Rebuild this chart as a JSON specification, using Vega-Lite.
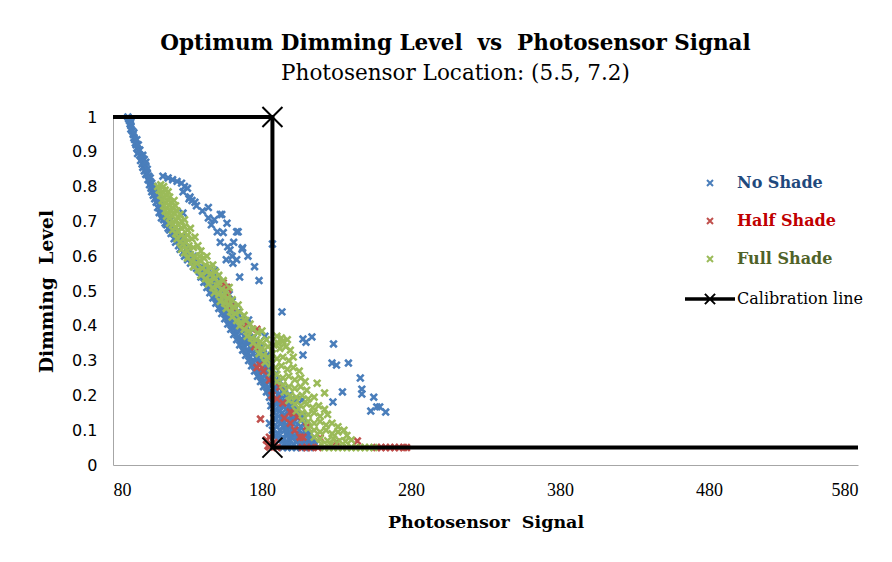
{
"$schema": "https://vega.github.io/schema/vega-lite/v6.json",
"autosize": {"type": "none"},
"padding": {"left": 113, "top": 117, "right": 34, "bottom": 97},
"width": 745,
"height": 348,
"background": "white",
"config": {"view": {"stroke": null}},
"title": {
"text": "Optimum Dimming Level\u00a0 vs\u00a0 Photosensor Signal",
"subtitle": "Photosensor Location: (5.5, 7.2)",
"font": "DejaVu Serif", "fontSize": 21.5, "fontWeight": "bold", "color": "#000000",
"subtitleFont": "DejaVu Serif", "subtitleFontSize": 21.5, "subtitleColor": "#000000", "subtitlePadding": 8,
"anchor": "middle", "frame": "group", "dx": -30, "offset": 19
},
"datasets": {
"scatter": [
{"s":"No Shade","x":90,"y":1.0},{"s":"No Shade","x":90.5,"y":0.995},{"s":"No Shade","x":91,"y":0.99},{"s":"No Shade","x":91.5,"y":0.98},{"s":"No Shade","x":92,"y":0.975},{"s":"No Shade","x":92,"y":0.965},{"s":"No Shade","x":93,"y":0.96},{"s":"No Shade","x":93.5,"y":0.95},{"s":"No Shade","x":94,"y":0.94},{"s":"No Shade","x":94.5,"y":0.935},{"s":"No Shade","x":95,"y":0.925},{"s":"No Shade","x":95.5,"y":0.92},{"s":"No Shade","x":96,"y":0.91},{"s":"No Shade","x":97,"y":0.905},{"s":"No Shade","x":96.5,"y":0.895},{"s":"No Shade","x":98,"y":0.89},{"s":"No Shade","x":99,"y":0.885},{"s":"No Shade","x":100,"y":0.88},{"s":"No Shade","x":101,"y":0.878},{"s":"No Shade","x":98.5,"y":0.875},{"s":"No Shade","x":99.5,"y":0.865},{"s":"No Shade","x":100,"y":0.855},{"s":"No Shade","x":102,"y":0.86},{"s":"No Shade","x":101,"y":0.845},{"s":"No Shade","x":102,"y":0.835},{"s":"No Shade","x":103,"y":0.84},{"s":"No Shade","x":104,"y":0.83},{"s":"No Shade","x":103.5,"y":0.82},{"s":"No Shade","x":105,"y":0.815},{"s":"No Shade","x":106,"y":0.81},{"s":"No Shade","x":104.5,"y":0.805},{"s":"No Shade","x":107,"y":0.8},{"s":"No Shade","x":105.5,"y":0.795},{"s":"No Shade","x":108,"y":0.79},{"s":"No Shade","x":106,"y":0.785},{"s":"No Shade","x":107,"y":0.775},{"s":"No Shade","x":109,"y":0.78},{"s":"No Shade","x":108,"y":0.765},{"s":"No Shade","x":110,"y":0.77},{"s":"No Shade","x":109,"y":0.755},{"s":"No Shade","x":111,"y":0.75},{"s":"No Shade","x":110,"y":0.74},{"s":"No Shade","x":112,"y":0.735},{"s":"No Shade","x":111,"y":0.725},{"s":"No Shade","x":113,"y":0.72},{"s":"No Shade","x":112.5,"y":0.71},{"s":"No Shade","x":114,"y":0.705},{"s":"No Shade","x":115,"y":0.695},{"s":"No Shade","x":116,"y":0.69},{"s":"No Shade","x":117,"y":0.68},{"s":"No Shade","x":118,"y":0.675},{"s":"No Shade","x":119,"y":0.665},
{"s":"No Shade","x":113.5,"y":0.83},{"s":"No Shade","x":117,"y":0.825},{"s":"No Shade","x":120,"y":0.82},{"s":"No Shade","x":123,"y":0.815},{"s":"No Shade","x":126,"y":0.81},{"s":"No Shade","x":128,"y":0.8},{"s":"No Shade","x":130,"y":0.795},{"s":"No Shade","x":127,"y":0.785},{"s":"No Shade","x":133,"y":0.76},{"s":"No Shade","x":131,"y":0.765},{"s":"No Shade","x":135,"y":0.755},{"s":"No Shade","x":144,"y":0.74},{"s":"No Shade","x":152,"y":0.72},{"s":"No Shade","x":144,"y":0.71},{"s":"No Shade","x":156.5,"y":0.695},{"s":"No Shade","x":164,"y":0.67},{"s":"No Shade","x":150,"y":0.67},{"s":"No Shade","x":154,"y":0.668},{"s":"No Shade","x":157,"y":0.627},{"s":"No Shade","x":158.5,"y":0.618},{"s":"No Shade","x":167,"y":0.624},{"s":"No Shade","x":170.6,"y":0.6},{"s":"No Shade","x":160,"y":0.6},{"s":"No Shade","x":156,"y":0.59},{"s":"No Shade","x":175,"y":0.57},{"s":"No Shade","x":187,"y":0.635},{"s":"No Shade","x":127,"y":0.724},{"s":"No Shade","x":140,"y":0.73},{"s":"No Shade","x":148,"y":0.705},{"s":"No Shade","x":136,"y":0.745},{"s":"No Shade","x":161,"y":0.64},{"s":"No Shade","x":146,"y":0.69},{"s":"No Shade","x":152,"y":0.64},{"s":"No Shade","x":131.7,"y":0.77},{"s":"No Shade","x":153,"y":0.72},{"s":"No Shade","x":163,"y":0.67},{"s":"No Shade","x":166.6,"y":0.62},{"s":"No Shade","x":160.5,"y":0.58},{"s":"No Shade","x":163,"y":0.59},{"s":"No Shade","x":165,"y":0.54},{"s":"No Shade","x":178,"y":0.53},
{"s":"No Shade","x":121,"y":0.65},{"s":"No Shade","x":122,"y":0.64},{"s":"No Shade","x":124,"y":0.63},{"s":"No Shade","x":125,"y":0.62},{"s":"No Shade","x":127,"y":0.61},{"s":"No Shade","x":128,"y":0.6},{"s":"No Shade","x":130,"y":0.59},{"s":"No Shade","x":132,"y":0.58},{"s":"No Shade","x":134,"y":0.57},{"s":"No Shade","x":136,"y":0.565},{"s":"No Shade","x":138,"y":0.555},{"s":"No Shade","x":140,"y":0.55},{"s":"No Shade","x":139,"y":0.54},{"s":"No Shade","x":142,"y":0.535},{"s":"No Shade","x":141,"y":0.525},{"s":"No Shade","x":144,"y":0.52},{"s":"No Shade","x":143,"y":0.51},{"s":"No Shade","x":146,"y":0.505},{"s":"No Shade","x":145,"y":0.495},{"s":"No Shade","x":148,"y":0.49},{"s":"No Shade","x":147,"y":0.48},{"s":"No Shade","x":150,"y":0.475},{"s":"No Shade","x":149,"y":0.465},{"s":"No Shade","x":152,"y":0.46},{"s":"No Shade","x":151,"y":0.45},{"s":"No Shade","x":154,"y":0.445},{"s":"No Shade","x":153,"y":0.435},{"s":"No Shade","x":156,"y":0.43},{"s":"No Shade","x":155,"y":0.42},{"s":"No Shade","x":158,"y":0.415},{"s":"No Shade","x":157,"y":0.405},{"s":"No Shade","x":160,"y":0.4},{"s":"No Shade","x":159,"y":0.39},{"s":"No Shade","x":162,"y":0.385},{"s":"No Shade","x":161,"y":0.375},{"s":"No Shade","x":164,"y":0.37},{"s":"No Shade","x":163,"y":0.36},{"s":"No Shade","x":166,"y":0.355},{"s":"No Shade","x":165,"y":0.345},{"s":"No Shade","x":168,"y":0.34},{"s":"No Shade","x":167,"y":0.33},{"s":"No Shade","x":170,"y":0.325},{"s":"No Shade","x":169,"y":0.315},{"s":"No Shade","x":172,"y":0.31},{"s":"No Shade","x":171,"y":0.3},{"s":"No Shade","x":174,"y":0.295},{"s":"No Shade","x":173,"y":0.285},{"s":"No Shade","x":176,"y":0.28},{"s":"No Shade","x":175,"y":0.27},{"s":"No Shade","x":178,"y":0.265},{"s":"No Shade","x":177,"y":0.255},{"s":"No Shade","x":180,"y":0.25},{"s":"No Shade","x":179,"y":0.24},{"s":"No Shade","x":182,"y":0.235},{"s":"No Shade","x":181,"y":0.225},{"s":"No Shade","x":184,"y":0.22},{"s":"No Shade","x":183,"y":0.21},{"s":"No Shade","x":186,"y":0.205},{"s":"No Shade","x":185,"y":0.195},{"s":"No Shade","x":188,"y":0.19},{"s":"No Shade","x":187,"y":0.18},{"s":"No Shade","x":190,"y":0.175},{"s":"No Shade","x":186,"y":0.17},{"s":"No Shade","x":189,"y":0.16},{"s":"No Shade","x":192,"y":0.155},{"s":"No Shade","x":188,"y":0.15},{"s":"No Shade","x":191,"y":0.14},{"s":"No Shade","x":194,"y":0.135},{"s":"No Shade","x":189,"y":0.13},{"s":"No Shade","x":193,"y":0.12},{"s":"No Shade","x":196,"y":0.115},{"s":"No Shade","x":190,"y":0.11},{"s":"No Shade","x":195,"y":0.1},{"s":"No Shade","x":198,"y":0.095},{"s":"No Shade","x":191,"y":0.09},{"s":"No Shade","x":197,"y":0.085},{"s":"No Shade","x":200,"y":0.08},{"s":"No Shade","x":193,"y":0.075},{"s":"No Shade","x":199,"y":0.07},{"s":"No Shade","x":203,"y":0.065},{"s":"No Shade","x":195,"y":0.06},{"s":"No Shade","x":201,"y":0.058},{"s":"No Shade","x":206,"y":0.055},{"s":"No Shade","x":209,"y":0.052},{"s":"No Shade","x":212,"y":0.05},
{"s":"No Shade","x":154,"y":0.5},{"s":"No Shade","x":152,"y":0.52},{"s":"No Shade","x":156,"y":0.48},{"s":"No Shade","x":158,"y":0.46},{"s":"No Shade","x":160,"y":0.44},{"s":"No Shade","x":162,"y":0.43},{"s":"No Shade","x":165,"y":0.41},{"s":"No Shade","x":167,"y":0.39},{"s":"No Shade","x":170,"y":0.375},{"s":"No Shade","x":172,"y":0.36},{"s":"No Shade","x":174,"y":0.345},{"s":"No Shade","x":176,"y":0.33},{"s":"No Shade","x":178,"y":0.32},{"s":"No Shade","x":180,"y":0.305},{"s":"No Shade","x":182,"y":0.29},{"s":"No Shade","x":184,"y":0.28},{"s":"No Shade","x":186,"y":0.265},{"s":"No Shade","x":188,"y":0.25},{"s":"No Shade","x":190,"y":0.24},{"s":"No Shade","x":192,"y":0.225},{"s":"No Shade","x":194,"y":0.21},{"s":"No Shade","x":196,"y":0.2},{"s":"No Shade","x":198,"y":0.185},{"s":"No Shade","x":200,"y":0.17},{"s":"No Shade","x":202,"y":0.16},{"s":"No Shade","x":204,"y":0.145},{"s":"No Shade","x":206,"y":0.13},{"s":"No Shade","x":208,"y":0.12},{"s":"No Shade","x":210,"y":0.105},{"s":"No Shade","x":212,"y":0.09},{"s":"No Shade","x":214,"y":0.075},{"s":"No Shade","x":211,"y":0.065},{"s":"No Shade","x":216,"y":0.06},{"s":"No Shade","x":205,"y":0.1},{"s":"No Shade","x":203,"y":0.11},{"s":"No Shade","x":200,"y":0.13},{"s":"No Shade","x":198,"y":0.15},{"s":"No Shade","x":194,"y":0.17},{"s":"No Shade","x":192,"y":0.19},{"s":"No Shade","x":189,"y":0.21},{"s":"No Shade","x":186,"y":0.23},{"s":"No Shade","x":183,"y":0.25},{"s":"No Shade","x":181,"y":0.27},{"s":"No Shade","x":178,"y":0.29},{"s":"No Shade","x":176,"y":0.31},{"s":"No Shade","x":173,"y":0.33},{"s":"No Shade","x":171,"y":0.35},{"s":"No Shade","x":168,"y":0.37},{"s":"No Shade","x":166,"y":0.39},{"s":"No Shade","x":163,"y":0.41},{"s":"No Shade","x":161,"y":0.43},{"s":"No Shade","x":158,"y":0.45},{"s":"No Shade","x":156,"y":0.47},{"s":"No Shade","x":150,"y":0.5},{"s":"No Shade","x":147,"y":0.53},{"s":"No Shade","x":144,"y":0.555},{"s":"No Shade","x":134,"y":0.6},{"s":"No Shade","x":131,"y":0.62},{"s":"No Shade","x":128,"y":0.64},{"s":"No Shade","x":126,"y":0.655},{"s":"No Shade","x":123,"y":0.67},{"s":"No Shade","x":121,"y":0.68},{"s":"No Shade","x":118,"y":0.7},{"s":"No Shade","x":116,"y":0.715},{"s":"No Shade","x":114,"y":0.73},{"s":"No Shade","x":113,"y":0.745},{"s":"No Shade","x":112,"y":0.76},{"s":"No Shade","x":111,"y":0.775},{"s":"No Shade","x":110,"y":0.79},
{"s":"No Shade","x":197,"y":0.05},{"s":"No Shade","x":200,"y":0.05},{"s":"No Shade","x":203,"y":0.05},{"s":"No Shade","x":206,"y":0.05},{"s":"No Shade","x":194,"y":0.05},{"s":"No Shade","x":207,"y":0.075},{"s":"No Shade","x":209,"y":0.085},{"s":"No Shade","x":204,"y":0.09},{"s":"No Shade","x":201,"y":0.1},{"s":"No Shade","x":207,"y":0.065},{"s":"No Shade","x":213,"y":0.065},{"s":"No Shade","x":196,"y":0.065},{"s":"No Shade","x":192,"y":0.1},{"s":"No Shade","x":194,"y":0.08},{"s":"No Shade","x":199,"y":0.11},{"s":"No Shade","x":202,"y":0.125},{"s":"No Shade","x":197,"y":0.13},{"s":"No Shade","x":195,"y":0.145},{"s":"No Shade","x":200,"y":0.14},{"s":"No Shade","x":196,"y":0.16},{"s":"No Shade","x":193,"y":0.18},{"s":"No Shade","x":197,"y":0.175},{"s":"No Shade","x":191,"y":0.2},{"s":"No Shade","x":188,"y":0.22},{"s":"No Shade","x":185,"y":0.24},{"s":"No Shade","x":190,"y":0.23},{"s":"No Shade","x":187,"y":0.26},{"s":"No Shade","x":183,"y":0.27},{"s":"No Shade","x":181,"y":0.29},{"s":"No Shade","x":185,"y":0.3},{"s":"No Shade","x":179,"y":0.31},{"s":"No Shade","x":183,"y":0.315},{"s":"No Shade","x":177,"y":0.32},{"s":"No Shade","x":175,"y":0.34},{"s":"No Shade","x":179,"y":0.34},{"s":"No Shade","x":173,"y":0.36},{"s":"No Shade","x":170,"y":0.38},{"s":"No Shade","x":168,"y":0.395},{"s":"No Shade","x":166,"y":0.41},{"s":"No Shade","x":163,"y":0.425},{"s":"No Shade","x":161,"y":0.44},{"s":"No Shade","x":159,"y":0.46},{"s":"No Shade","x":156,"y":0.46},{"s":"No Shade","x":154,"y":0.48},{"s":"No Shade","x":203,"y":0.187},{"s":"No Shade","x":207,"y":0.187},
{"s":"No Shade","x":185,"y":0.12},{"s":"No Shade","x":187,"y":0.1},{"s":"No Shade","x":189,"y":0.085},{"s":"No Shade","x":191,"y":0.07},{"s":"No Shade","x":198,"y":0.06},{"s":"No Shade","x":204,"y":0.075},{"s":"No Shade","x":210,"y":0.07},{"s":"No Shade","x":212,"y":0.08},{"s":"No Shade","x":206,"y":0.11},{"s":"No Shade","x":203,"y":0.14},{"s":"No Shade","x":199,"y":0.16},{"s":"No Shade","x":195,"y":0.18},{"s":"No Shade","x":192,"y":0.205},{"s":"No Shade","x":189,"y":0.225},{"s":"No Shade","x":186,"y":0.245},{"s":"No Shade","x":184,"y":0.26},{"s":"No Shade","x":181,"y":0.28},{"s":"No Shade","x":179,"y":0.3},{"s":"No Shade","x":177,"y":0.305},{"s":"No Shade","x":174,"y":0.32},{"s":"No Shade","x":172,"y":0.34},{"s":"No Shade","x":170,"y":0.355},{"s":"No Shade","x":167,"y":0.36},{"s":"No Shade","x":164,"y":0.39},{"s":"No Shade","x":162,"y":0.4},{"s":"No Shade","x":159,"y":0.42},{"s":"No Shade","x":157,"y":0.44},{"s":"No Shade","x":155,"y":0.455},{"s":"No Shade","x":153,"y":0.47},{"s":"No Shade","x":151,"y":0.48},{"s":"No Shade","x":149,"y":0.5},{"s":"No Shade","x":147,"y":0.52},{"s":"No Shade","x":145,"y":0.54},{"s":"No Shade","x":143,"y":0.545},{"s":"No Shade","x":141,"y":0.56},{"s":"No Shade","x":139,"y":0.57},{"s":"No Shade","x":137,"y":0.58},{"s":"No Shade","x":135,"y":0.585},{"s":"No Shade","x":133,"y":0.595},{"s":"No Shade","x":131,"y":0.605},{"s":"No Shade","x":129,"y":0.62},{"s":"No Shade","x":127,"y":0.63},{"s":"No Shade","x":125,"y":0.645},{"s":"No Shade","x":123,"y":0.655},{"s":"No Shade","x":121,"y":0.665},{"s":"No Shade","x":119,"y":0.68},{"s":"No Shade","x":117,"y":0.695},{"s":"No Shade","x":115,"y":0.71},{"s":"No Shade","x":113,"y":0.73},{"s":"No Shade","x":112,"y":0.75},{"s":"No Shade","x":110,"y":0.76},{"s":"No Shade","x":108,"y":0.78},{"s":"No Shade","x":107,"y":0.79},{"s":"No Shade","x":106,"y":0.8},{"s":"No Shade","x":105,"y":0.825},{"s":"No Shade","x":103,"y":0.85},{"s":"No Shade","x":102,"y":0.87},{"s":"No Shade","x":100,"y":0.89},{"s":"No Shade","x":98,"y":0.905},{"s":"No Shade","x":97,"y":0.92},{"s":"No Shade","x":96,"y":0.935},{"s":"No Shade","x":94,"y":0.955},{"s":"No Shade","x":92,"y":0.985},
{"s":"No Shade","x":188,"y":0.135},{"s":"No Shade","x":191,"y":0.125},{"s":"No Shade","x":194,"y":0.11},{"s":"No Shade","x":197,"y":0.1},{"s":"No Shade","x":200,"y":0.09},{"s":"No Shade","x":203,"y":0.08},{"s":"No Shade","x":206,"y":0.085},{"s":"No Shade","x":209,"y":0.095},{"s":"No Shade","x":207,"y":0.14},{"s":"No Shade","x":204,"y":0.16},{"s":"No Shade","x":201,"y":0.18},{"s":"No Shade","x":198,"y":0.2},{"s":"No Shade","x":195,"y":0.22},{"s":"No Shade","x":192,"y":0.24},{"s":"No Shade","x":189,"y":0.26},{"s":"No Shade","x":186,"y":0.28},{"s":"No Shade","x":183,"y":0.3},{"s":"No Shade","x":181,"y":0.32},{"s":"No Shade","x":178,"y":0.335},{"s":"No Shade","x":176,"y":0.35},{"s":"No Shade","x":174,"y":0.365},{"s":"No Shade","x":172,"y":0.38},{"s":"No Shade","x":169,"y":0.4},{"s":"No Shade","x":167,"y":0.42},{"s":"No Shade","x":164,"y":0.44},{"s":"No Shade","x":162,"y":0.45},{"s":"No Shade","x":160,"y":0.47},{"s":"No Shade","x":158,"y":0.49},{"s":"No Shade","x":156,"y":0.51},{"s":"No Shade","x":153,"y":0.525},{"s":"No Shade","x":150,"y":0.54},{"s":"No Shade","x":148,"y":0.56},
{"s":"No Shade","x":193.4,"y":0.44},{"s":"No Shade","x":207.5,"y":0.362},{"s":"No Shade","x":213.5,"y":0.368},{"s":"No Shade","x":228,"y":0.348},{"s":"No Shade","x":209.5,"y":0.353},{"s":"No Shade","x":227,"y":0.293},{"s":"No Shade","x":230,"y":0.287},{"s":"No Shade","x":238,"y":0.293},{"s":"No Shade","x":246,"y":0.25},{"s":"No Shade","x":247,"y":0.218},{"s":"No Shade","x":247,"y":0.204},{"s":"No Shade","x":234,"y":0.21},{"s":"No Shade","x":227.6,"y":0.181},{"s":"No Shade","x":255,"y":0.195},{"s":"No Shade","x":253,"y":0.155},{"s":"No Shade","x":257,"y":0.167},{"s":"No Shade","x":259,"y":0.167},{"s":"No Shade","x":263,"y":0.152},{"s":"No Shade","x":207.5,"y":0.316},{"s":"No Shade","x":171,"y":0.417},{"s":"No Shade","x":182,"y":0.37},
{"s":"Half Shade","x":156.5,"y":0.51},{"s":"Half Shade","x":154,"y":0.523},{"s":"Half Shade","x":155,"y":0.51},{"s":"Half Shade","x":158.5,"y":0.468},{"s":"Half Shade","x":157,"y":0.49},{"s":"Half Shade","x":176.6,"y":0.39},{"s":"Half Shade","x":175,"y":0.34},{"s":"Half Shade","x":178.7,"y":0.287},{"s":"Half Shade","x":176.6,"y":0.28},{"s":"Half Shade","x":185,"y":0.244},{"s":"Half Shade","x":186.7,"y":0.2},{"s":"Half Shade","x":192,"y":0.224},{"s":"Half Shade","x":194,"y":0.178},{"s":"Half Shade","x":199,"y":0.152},{"s":"Half Shade","x":204,"y":0.138},{"s":"Half Shade","x":195,"y":0.135},{"s":"Half Shade","x":210,"y":0.11},{"s":"Half Shade","x":205.5,"y":0.08},{"s":"Half Shade","x":179,"y":0.132},{"s":"Half Shade","x":183,"y":0.072},{"s":"Half Shade","x":185,"y":0.052},{"s":"Half Shade","x":244,"y":0.069},{"s":"Half Shade","x":219,"y":0.078},{"s":"Half Shade","x":230,"y":0.066},{"s":"Half Shade","x":201,"y":0.149},{"s":"Half Shade","x":199,"y":0.12},{"s":"Half Shade","x":207.5,"y":0.08},{"s":"Half Shade","x":185,"y":0.08},{"s":"Half Shade","x":188,"y":0.065},{"s":"Half Shade","x":186,"y":0.06},{"s":"Half Shade","x":184,"y":0.055},{"s":"Half Shade","x":207,"y":0.05},{"s":"Half Shade","x":210,"y":0.05},{"s":"Half Shade","x":213,"y":0.05},{"s":"Half Shade","x":217.6,"y":0.05},{"s":"Half Shade","x":257,"y":0.05},{"s":"Half Shade","x":260,"y":0.05},{"s":"Half Shade","x":263,"y":0.05},{"s":"Half Shade","x":266,"y":0.05},{"s":"Half Shade","x":269,"y":0.05},{"s":"Half Shade","x":272,"y":0.05},{"s":"Half Shade","x":275,"y":0.05},{"s":"Half Shade","x":277,"y":0.05},{"s":"Half Shade","x":190,"y":0.05},{"s":"Half Shade","x":157,"y":0.465},{"s":"Half Shade","x":160,"y":0.455},{"s":"Half Shade","x":168,"y":0.4},{"s":"Half Shade","x":181,"y":0.27},{"s":"Half Shade","x":190,"y":0.19},{"s":"Half Shade","x":202,"y":0.1},
{"s":"Full Shade","x":110,"y":0.8},{"s":"Full Shade","x":112,"y":0.805},{"s":"Full Shade","x":114,"y":0.8},{"s":"Full Shade","x":111,"y":0.79},{"s":"Full Shade","x":113,"y":0.785},{"s":"Full Shade","x":115,"y":0.79},{"s":"Full Shade","x":117,"y":0.785},{"s":"Full Shade","x":112,"y":0.775},{"s":"Full Shade","x":114,"y":0.77},{"s":"Full Shade","x":116,"y":0.775},{"s":"Full Shade","x":118,"y":0.77},{"s":"Full Shade","x":113,"y":0.76},{"s":"Full Shade","x":115,"y":0.755},{"s":"Full Shade","x":117,"y":0.76},{"s":"Full Shade","x":119,"y":0.755},{"s":"Full Shade","x":121,"y":0.76},{"s":"Full Shade","x":114,"y":0.745},{"s":"Full Shade","x":116,"y":0.74},{"s":"Full Shade","x":118,"y":0.745},{"s":"Full Shade","x":120,"y":0.74},{"s":"Full Shade","x":122,"y":0.745},{"s":"Full Shade","x":115,"y":0.73},{"s":"Full Shade","x":117,"y":0.725},{"s":"Full Shade","x":119,"y":0.73},{"s":"Full Shade","x":121,"y":0.725},{"s":"Full Shade","x":123,"y":0.73},{"s":"Full Shade","x":125,"y":0.72},{"s":"Full Shade","x":116,"y":0.715},{"s":"Full Shade","x":118,"y":0.71},{"s":"Full Shade","x":120,"y":0.715},{"s":"Full Shade","x":122,"y":0.705},{"s":"Full Shade","x":124,"y":0.71},{"s":"Full Shade","x":126,"y":0.7},{"s":"Full Shade","x":128,"y":0.705},{"s":"Full Shade","x":118,"y":0.695},{"s":"Full Shade","x":120,"y":0.69},{"s":"Full Shade","x":122,"y":0.685},{"s":"Full Shade","x":124,"y":0.69},{"s":"Full Shade","x":126,"y":0.68},{"s":"Full Shade","x":128,"y":0.685},{"s":"Full Shade","x":130,"y":0.675},{"s":"Full Shade","x":132,"y":0.68},{"s":"Full Shade","x":120,"y":0.675},{"s":"Full Shade","x":122,"y":0.665},{"s":"Full Shade","x":124,"y":0.67},{"s":"Full Shade","x":126,"y":0.66},{"s":"Full Shade","x":128,"y":0.655},{"s":"Full Shade","x":130,"y":0.66},{"s":"Full Shade","x":133,"y":0.65},{"s":"Full Shade","x":135,"y":0.655},{"s":"Full Shade","x":123,"y":0.65},{"s":"Full Shade","x":125,"y":0.64},{"s":"Full Shade","x":127,"y":0.635},{"s":"Full Shade","x":129,"y":0.64},{"s":"Full Shade","x":131,"y":0.63},{"s":"Full Shade","x":134,"y":0.625},{"s":"Full Shade","x":137,"y":0.63},{"s":"Full Shade","x":139,"y":0.615},{"s":"Full Shade","x":126,"y":0.62},{"s":"Full Shade","x":128,"y":0.61},{"s":"Full Shade","x":130,"y":0.615},{"s":"Full Shade","x":132,"y":0.605},{"s":"Full Shade","x":135,"y":0.6},{"s":"Full Shade","x":138,"y":0.6},{"s":"Full Shade","x":141,"y":0.595},{"s":"Full Shade","x":143,"y":0.6},{"s":"Full Shade","x":130,"y":0.595},{"s":"Full Shade","x":133,"y":0.585},{"s":"Full Shade","x":136,"y":0.58},{"s":"Full Shade","x":139,"y":0.585},{"s":"Full Shade","x":142,"y":0.575},{"s":"Full Shade","x":145,"y":0.57},{"s":"Full Shade","x":147,"y":0.575},{"s":"Full Shade","x":134,"y":0.57},{"s":"Full Shade","x":137,"y":0.56},{"s":"Full Shade","x":140,"y":0.565},{"s":"Full Shade","x":143,"y":0.555},{"s":"Full Shade","x":146,"y":0.55},{"s":"Full Shade","x":149,"y":0.555},{"s":"Full Shade","x":151,"y":0.545},{"s":"Full Shade","x":139,"y":0.545},{"s":"Full Shade","x":142,"y":0.535},{"s":"Full Shade","x":145,"y":0.53},{"s":"Full Shade","x":148,"y":0.535},{"s":"Full Shade","x":151,"y":0.525},{"s":"Full Shade","x":154,"y":0.53},{"s":"Full Shade","x":144,"y":0.52},{"s":"Full Shade","x":147,"y":0.51},{"s":"Full Shade","x":150,"y":0.515},{"s":"Full Shade","x":153,"y":0.505},{"s":"Full Shade","x":156,"y":0.5},{"s":"Full Shade","x":158,"y":0.51},{"s":"Full Shade","x":148,"y":0.495},{"s":"Full Shade","x":151,"y":0.49},{"s":"Full Shade","x":154,"y":0.485},{"s":"Full Shade","x":157,"y":0.48},{"s":"Full Shade","x":160,"y":0.475},{"s":"Full Shade","x":152,"y":0.47},{"s":"Full Shade","x":155,"y":0.465},{"s":"Full Shade","x":158,"y":0.46},{"s":"Full Shade","x":161,"y":0.455},{"s":"Full Shade","x":164,"y":0.46},{"s":"Full Shade","x":156,"y":0.45},{"s":"Full Shade","x":159,"y":0.44},{"s":"Full Shade","x":162,"y":0.435},{"s":"Full Shade","x":165,"y":0.44},{"s":"Full Shade","x":168,"y":0.43},{"s":"Full Shade","x":160,"y":0.425},{"s":"Full Shade","x":163,"y":0.415},{"s":"Full Shade","x":166,"y":0.41},{"s":"Full Shade","x":169,"y":0.415},{"s":"Full Shade","x":172,"y":0.405},{"s":"Full Shade","x":165,"y":0.4},{"s":"Full Shade","x":168,"y":0.39},{"s":"Full Shade","x":171,"y":0.385},{"s":"Full Shade","x":174,"y":0.39},{"s":"Full Shade","x":177,"y":0.38},{"s":"Full Shade","x":180,"y":0.385},{"s":"Full Shade","x":170,"y":0.37},{"s":"Full Shade","x":173,"y":0.365},{"s":"Full Shade","x":176,"y":0.36},{"s":"Full Shade","x":179,"y":0.355},{"s":"Full Shade","x":183,"y":0.36},{"s":"Full Shade","x":174,"y":0.35},{"s":"Full Shade","x":177,"y":0.34},{"s":"Full Shade","x":180,"y":0.335},{"s":"Full Shade","x":184,"y":0.34},{"s":"Full Shade","x":188,"y":0.345},{"s":"Full Shade","x":191,"y":0.35},{"s":"Full Shade","x":194,"y":0.355},{"s":"Full Shade","x":197,"y":0.36},{"s":"Full Shade","x":190,"y":0.37},{"s":"Full Shade","x":193,"y":0.365},{"s":"Full Shade","x":192,"y":0.335},{"s":"Full Shade","x":196,"y":0.34},{"s":"Full Shade","x":199,"y":0.33},{"s":"Full Shade","x":178,"y":0.32},{"s":"Full Shade","x":181,"y":0.315},{"s":"Full Shade","x":184,"y":0.31},{"s":"Full Shade","x":187,"y":0.32},{"s":"Full Shade","x":190,"y":0.305},{"s":"Full Shade","x":194,"y":0.31},{"s":"Full Shade","x":198,"y":0.3},{"s":"Full Shade","x":201,"y":0.31},{"s":"Full Shade","x":182,"y":0.295},{"s":"Full Shade","x":186,"y":0.29},{"s":"Full Shade","x":189,"y":0.28},{"s":"Full Shade","x":193,"y":0.285},{"s":"Full Shade","x":197,"y":0.275},{"s":"Full Shade","x":201,"y":0.28},{"s":"Full Shade","x":205,"y":0.27},{"s":"Full Shade","x":186,"y":0.265},{"s":"Full Shade","x":190,"y":0.26},{"s":"Full Shade","x":194,"y":0.25},{"s":"Full Shade","x":198,"y":0.255},{"s":"Full Shade","x":202,"y":0.245},{"s":"Full Shade","x":206,"y":0.25},{"s":"Full Shade","x":209,"y":0.24},{"s":"Full Shade","x":190,"y":0.24},{"s":"Full Shade","x":194,"y":0.23},{"s":"Full Shade","x":198,"y":0.225},{"s":"Full Shade","x":202,"y":0.22},{"s":"Full Shade","x":206,"y":0.225},{"s":"Full Shade","x":210,"y":0.215},{"s":"Full Shade","x":217,"y":0.235},{"s":"Full Shade","x":222,"y":0.207},{"s":"Full Shade","x":195,"y":0.21},{"s":"Full Shade","x":199,"y":0.2},{"s":"Full Shade","x":203,"y":0.195},{"s":"Full Shade","x":207,"y":0.2},{"s":"Full Shade","x":211,"y":0.19},{"s":"Full Shade","x":215,"y":0.195},{"s":"Full Shade","x":198,"y":0.185},{"s":"Full Shade","x":202,"y":0.175},{"s":"Full Shade","x":206,"y":0.17},{"s":"Full Shade","x":210,"y":0.175},{"s":"Full Shade","x":214,"y":0.165},{"s":"Full Shade","x":218,"y":0.17},{"s":"Full Shade","x":222,"y":0.16},{"s":"Full Shade","x":203,"y":0.155},{"s":"Full Shade","x":207,"y":0.15},{"s":"Full Shade","x":211,"y":0.145},{"s":"Full Shade","x":215,"y":0.15},{"s":"Full Shade","x":219,"y":0.14},{"s":"Full Shade","x":224,"y":0.145},{"s":"Full Shade","x":207,"y":0.13},{"s":"Full Shade","x":211,"y":0.125},{"s":"Full Shade","x":215,"y":0.12},{"s":"Full Shade","x":219,"y":0.125},{"s":"Full Shade","x":223,"y":0.115},{"s":"Full Shade","x":227,"y":0.12},{"s":"Full Shade","x":231,"y":0.11},{"s":"Full Shade","x":211,"y":0.105},{"s":"Full Shade","x":215,"y":0.1},{"s":"Full Shade","x":219,"y":0.095},{"s":"Full Shade","x":223,"y":0.1},{"s":"Full Shade","x":227,"y":0.09},{"s":"Full Shade","x":231,"y":0.095},{"s":"Full Shade","x":235,"y":0.1},{"s":"Full Shade","x":237,"y":0.085},{"s":"Full Shade","x":215,"y":0.08},{"s":"Full Shade","x":219,"y":0.075},{"s":"Full Shade","x":224,"y":0.07},{"s":"Full Shade","x":228,"y":0.075},{"s":"Full Shade","x":232,"y":0.07},{"s":"Full Shade","x":236,"y":0.068},{"s":"Full Shade","x":240,"y":0.072},{"s":"Full Shade","x":220,"y":0.06},{"s":"Full Shade","x":226,"y":0.058},{"s":"Full Shade","x":222,"y":0.05},{"s":"Full Shade","x":225,"y":0.05},{"s":"Full Shade","x":228,"y":0.05},{"s":"Full Shade","x":231,"y":0.05},{"s":"Full Shade","x":234,"y":0.05},{"s":"Full Shade","x":237,"y":0.05},{"s":"Full Shade","x":240,"y":0.05},{"s":"Full Shade","x":243,"y":0.05},{"s":"Full Shade","x":246,"y":0.05},{"s":"Full Shade","x":249,"y":0.05},{"s":"Full Shade","x":252,"y":0.05},{"s":"Full Shade","x":255,"y":0.05}
],
"calib": [
{"x":80,"y":1,"o":1},{"x":187,"y":1,"o":2},{"x":187,"y":0.05,"o":3},{"x":580,"y":0.05,"o":4}
],
"calibMarks": [
{"x":187,"y":1},{"x":187,"y":0.05}
]
},
"encoding": {
"x": {"field": "x", "type": "quantitative",
"scale": {"domain": [80, 580], "nice": false, "zero": false},
"axis": {"title": "Photosensor\u00a0 Signal", "values": [80,180,280,380,480,580],
"labelFont": "Liberation Serif", "labelFontSize": 18, "labelColor": "#000000", "labelPadding": 16,
"titleFont": "DejaVu Serif", "titleFontSize": 17.5, "titleFontWeight": "bold", "titleColor": "#000000", "titlePadding": 14,
"ticks": false, "grid": false, "domainColor": "#A6A6A6", "domainWidth": 1}},
"y": {"field": "y", "type": "quantitative",
"scale": {"domain": [0, 1], "nice": false},
"axis": {"title": "Dimming\u00a0 Level", "values": [0,0.1,0.2,0.3,0.4,0.5,0.6,0.7,0.8,0.9,1], "format": ".1~f",
"labelFont": "DejaVu Sans", "labelFontSize": 16, "labelColor": "#000000", "labelPadding": 16,
"titleFont": "DejaVu Serif", "titleFontSize": 18.5, "titleFontWeight": "bold", "titleColor": "#000000", "titlePadding": 15,
"ticks": false, "grid": false, "domainColor": "#A6A6A6", "domainWidth": 1}}
},
"layer": [
{
"data": {"name": "scatter"},
"mark": {"type": "point", "filled": false, "strokeWidth": 2.6, "size": 44, "opacity": 1},
"encoding": {
"color": {"field": "s", "type": "nominal",
"scale": {"domain": ["No Shade", "Half Shade", "Full Shade", "Calibration line"], "range": ["#4A7EBB", "#C0504D", "#9BBB59", "#000000"]},
"legend": {"orient": "none", "legendX": 589, "legendY": 58, "title": null, "padding": 0,
"symbolSize": 36, "symbolStrokeWidth": 2, "rowPadding": 22, "labelOffset": 19,
"labelFont": "DejaVu Serif", "labelFontSize": 16, "labelLimit": 300,
"labelColor": {"expr": "datum.value === 'No Shade' ? '#1F497D' : datum.value === 'Half Shade' ? '#C00000' : datum.value === 'Full Shade' ? '#4F6228' : '#000000'"},
"labelFontWeight": {"expr": "datum.value === 'Calibration line' ? 'normal' : 'bold'"}
}},
"shape": {"field": "s", "type": "nominal",
"scale": {"domain": ["No Shade", "Half Shade", "Full Shade", "Calibration line"], "range": ["M-1,-1L1,1M-1,1L1,-1", "M-1,-1L1,1M-1,1L1,-1", "M-1,-1L1,1M-1,1L1,-1", "M-8,-0.25H8V0.25H-8ZM-1.7,-1.7L1.7,1.7M-1.7,1.7L1.7,-1.7"]},
"legend": {"orient": "none", "legendX": 589, "legendY": 58, "title": null, "padding": 0,
"symbolSize": 36, "symbolStrokeWidth": 2, "rowPadding": 22, "labelOffset": 19,
"labelFont": "DejaVu Serif", "labelFontSize": 16, "labelLimit": 300,
"labelColor": {"expr": "datum.value === 'No Shade' ? '#1F497D' : datum.value === 'Half Shade' ? '#C00000' : datum.value === 'Full Shade' ? '#4F6228' : '#000000'"},
"labelFontWeight": {"expr": "datum.value === 'Calibration line' ? 'normal' : 'bold'"}
}}
}
},
{
"data": {"name": "calib"},
"mark": {"type": "line", "color": "#000000", "strokeWidth": 4},
"encoding": {"order": {"field": "o", "type": "quantitative"}}
},
{
"data": {"name": "calibMarks"},
"mark": {"type": "point", "shape": "M-1,-1L1,1M-1,1L1,-1", "filled": false, "color": "#000000", "strokeWidth": 2, "size": 400, "opacity": 1},
"encoding": {}
}
]
}
